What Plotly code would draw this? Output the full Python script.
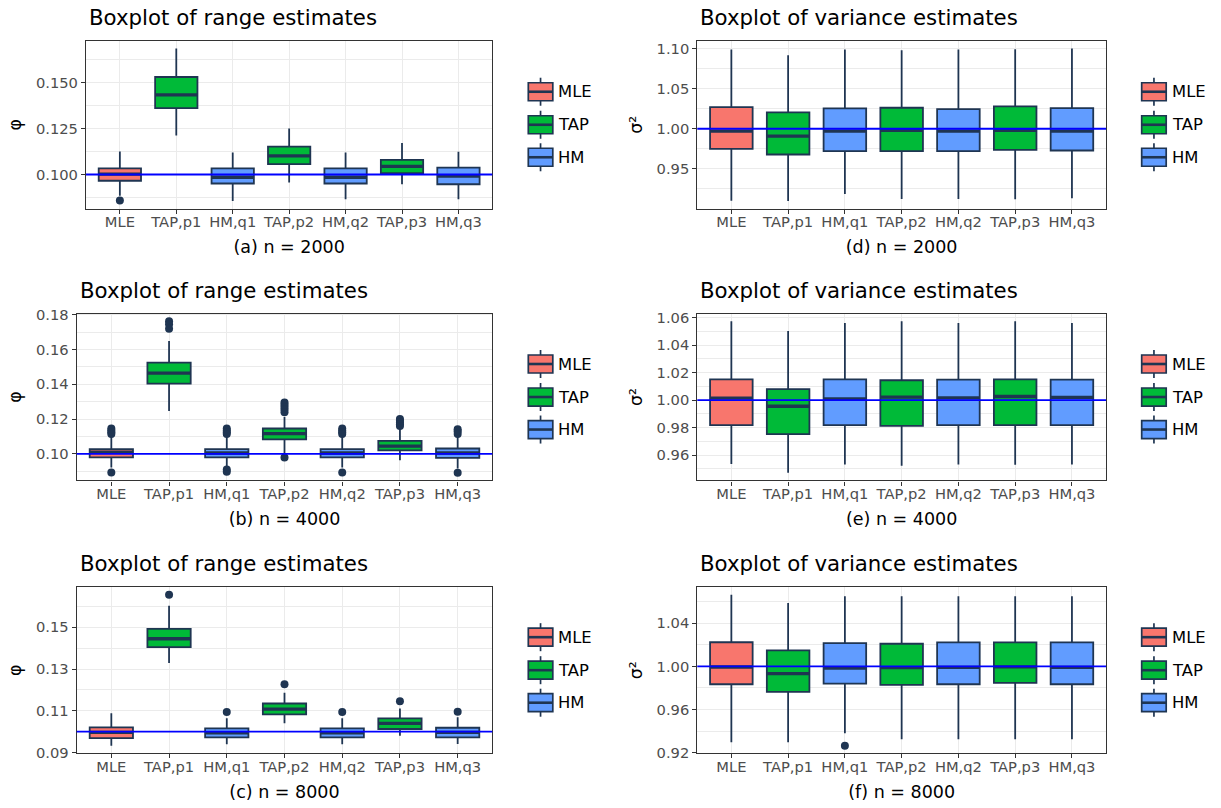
import plotly.graph_objects as go

W, H = 1221, 808

categories = ["MLE", "TAP,p1", "HM,q1", "TAP,p2", "HM,q2", "TAP,p3", "HM,q3"]
groups = ["MLE", "TAP", "HM", "TAP", "HM", "TAP", "HM"]
legend_groups = ["MLE", "TAP", "HM"]

# ---------- (a) range, n = 2000 ----------
a_lower = [0.0885, 0.1212, 0.0856, 0.0956, 0.0865, 0.0947, 0.0865]
a_q1 = [0.0966, 0.1361, 0.0951, 0.1057, 0.0951, 0.1008, 0.0947]
a_med = [0.1002, 0.1434, 0.0985, 0.1102, 0.0985, 0.1044, 0.0991]
a_q3 = [0.1033, 0.1531, 0.1033, 0.1152, 0.1033, 0.1080, 0.1038]
a_upper = [0.1126, 0.1686, 0.1120, 0.1250, 0.1120, 0.1172, 0.1124]
a_out = [[0.0858], [], [], [], [], [], []]

# ---------- (b) range, n = 4000 ----------
b_lower = [0.0922, 0.1247, 0.0922, 0.1002, 0.0922, 0.0964, 0.0916]
b_q1 = [0.0980, 0.1404, 0.0980, 0.1083, 0.0980, 0.1020, 0.0977]
b_med = [0.1010, 0.1465, 0.1005, 0.1117, 0.1005, 0.1045, 0.1005]
b_q3 = [0.1027, 0.1525, 0.1027, 0.1146, 0.1027, 0.1075, 0.1031]
b_upper = [0.1103, 0.1649, 0.1103, 0.1212, 0.1103, 0.1146, 0.1098]
b_out = [
    [0.1146, 0.1135, 0.1125, 0.1115, 0.0893],
    [0.1763, 0.1745, 0.1720],
    [0.1146, 0.1135, 0.1125, 0.1115, 0.0910, 0.0897],
    [0.1295, 0.1283, 0.1270, 0.1255, 0.1240, 0.0979],
    [0.1146, 0.1135, 0.1125, 0.1115, 0.0893],
    [0.1200, 0.1190, 0.1180, 0.1170, 0.1160],
    [0.1142, 0.1130, 0.1115, 0.0891],
]

# ---------- (c) range, n = 8000 ----------
c_lower = [0.0933, 0.1329, 0.0940, 0.1040, 0.0940, 0.0980, 0.0941]
c_q1 = [0.0969, 0.1405, 0.0973, 0.1083, 0.0973, 0.1013, 0.0973]
c_med = [0.0997, 0.1445, 0.0995, 0.1108, 0.0995, 0.1040, 0.0997]
c_q3 = [0.1021, 0.1492, 0.1016, 0.1135, 0.1016, 0.1064, 0.1019]
c_upper = [0.1088, 0.1603, 0.1064, 0.1186, 0.1064, 0.1111, 0.1069]
c_out = [[], [0.1656], [0.1094], [0.1227], [0.1094], [0.1146], [0.1095]]

# ---------- (d) variance, n = 2000 ----------
d_lower = [0.9104, 0.9100, 0.9187, 0.9125, 0.9125, 0.9120, 0.9133]
d_q1 = [0.9750, 0.9679, 0.9720, 0.9720, 0.9720, 0.9737, 0.9729]
d_med = [0.9970, 0.9908, 0.9970, 0.9980, 0.9970, 0.9980, 0.9970]
d_q3 = [1.0270, 1.0204, 1.0254, 1.0262, 1.0245, 1.0280, 1.0258]
d_upper = [1.0988, 1.0916, 1.0988, 1.0980, 1.0988, 1.0990, 1.1000]
d_out = [[], [], [], [], [], [], []]

# ---------- (e) variance, n = 4000 ----------
e_lower = [0.9535, 0.9471, 0.9532, 0.9522, 0.9532, 0.9530, 0.9532]
e_q1 = [0.9818, 0.9753, 0.9818, 0.9813, 0.9818, 0.9818, 0.9818]
e_med = [1.0015, 0.9956, 1.0010, 1.0022, 1.0017, 1.0027, 1.0020]
e_q3 = [1.0151, 1.0080, 1.0151, 1.0145, 1.0150, 1.0152, 1.0150]
e_upper = [1.0575, 1.0504, 1.0562, 1.0575, 1.0562, 1.0575, 1.0562]
e_out = [[], [], [], [], [], [], []]

# ---------- (f) variance, n = 8000 ----------
f_lower = [0.9296, 0.9296, 0.9379, 0.9323, 0.9323, 0.9323, 0.9323]
f_q1 = [0.9834, 0.9763, 0.9840, 0.9828, 0.9834, 0.9846, 0.9834]
f_med = [0.9994, 0.9932, 0.9985, 0.9988, 0.9990, 0.9995, 0.9990]
f_q3 = [1.0224, 1.0148, 1.0215, 1.0210, 1.0222, 1.0222, 1.0222]
f_upper = [1.0665, 1.0588, 1.0650, 1.0650, 1.0650, 1.0650, 1.0650]
f_out = [[], [], [0.9264], [], [], [], []]

range_true = 0.1
variance_true = 1.0

# ---------- styling ----------
FONT = "DejaVu Sans"
NAVY = "#1F3552"
FILL = {"MLE": "#F8766D", "TAP": "#00BA38", "HM": "#619CFF"}
GRID = "#EBEBEB"
BOXW = 0.75
# vertical mapping of the photographed page (measured): y_img = OFF_Y + SCALE_Y * y_page
OFF_Y, SCALE_Y = 7.8, 0.981

panels = [
    dict(stats=(a_lower, a_q1, a_med, a_q3, a_upper), out=a_out, ref=range_true,
         px=(86, 40.7, 492.3, 208.3), tick0=0.1, dtick=0.025, fmt=".3f",
         title="Boxplot of range estimates", xtitle="(a) n = 2000", ytitle="φ",
         title_y=17.5, legend_x=528.3),
    dict(stats=(b_lower, b_q1, b_med, b_q3, b_upper), out=b_out, ref=range_true,
         px=(76.7, 313.3, 492.3, 480), tick0=0.1, dtick=0.02, fmt=".2f",
         title="Boxplot of range estimates", xtitle="(b) n = 4000", ytitle="φ",
         title_y=290.3, legend_x=528.3),
    dict(stats=(c_lower, c_q1, c_med, c_q3, c_upper), out=c_out, ref=range_true,
         px=(76.7, 586.7, 492.3, 752.7), tick0=0.09, dtick=0.02, fmt=".2f",
         title="Boxplot of range estimates", xtitle="(c) n = 8000", ytitle="φ",
         title_y=563.3, legend_x=528.3),
    dict(stats=(d_lower, d_q1, d_med, d_q3, d_upper), out=d_out, ref=variance_true,
         px=(697.3, 40.7, 1106, 208.3), tick0=1.0, dtick=0.05, fmt=".2f",
         title="Boxplot of variance estimates", xtitle="(d) n = 2000", ytitle="σ²",
         title_y=17, legend_x=1141.7),
    dict(stats=(e_lower, e_q1, e_med, e_q3, e_upper), out=e_out, ref=variance_true,
         px=(697.3, 313.3, 1106, 480), tick0=1.0, dtick=0.02, fmt=".2f",
         title="Boxplot of variance estimates", xtitle="(e) n = 4000", ytitle="σ²",
         title_y=290.3, legend_x=1141.7),
    dict(stats=(f_lower, f_q1, f_med, f_q3, f_upper), out=f_out, ref=variance_true,
         px=(697.3, 586.7, 1106, 752.7), tick0=1.0, dtick=0.04, fmt=".2f",
         title="Boxplot of variance estimates", xtitle="(f) n = 8000", ytitle="σ²",
         title_y=563.3, legend_x=1141.7),
]


def px_x(v):
    return v / W


def px_y(v):
    page_y = (v - OFF_Y) / SCALE_Y
    return 1 - page_y / H


fig = go.Figure()
shapes = []
annotations = []
layout_axes = {}
positions = list(range(len(categories)))

for k, p in enumerate(panels):
    n = k + 1
    xa = "x" if n == 1 else f"x{n}"
    ya = "y" if n == 1 else f"y{n}"
    lower, q1, med, q3, upper = p["stats"]

    for i, cat in enumerate(categories):
        g = groups[i]
        fig.add_trace(go.Box(
            x=[positions[i]], q1=[q1[i]], median=[med[i]], q3=[q3[i]],
            lowerfence=[lower[i]], upperfence=[upper[i]],
            width=BOXW, whiskerwidth=0, boxpoints=False,
            fillcolor=FILL[g], line=dict(color=NAVY, width=1.8),
            name=cat, showlegend=False, hoverinfo="skip",
            xaxis=xa, yaxis=ya,
        ))
    mx, my = [], []
    for i in positions:
        mx += [i - BOXW / 2, i + BOXW / 2, None]
        my += [med[i], med[i], None]
    fig.add_trace(go.Scatter(x=mx, y=my, mode="lines", line=dict(color=NAVY, width=3.3),
                             showlegend=False, hoverinfo="skip", xaxis=xa, yaxis=ya))
    ox, oy = [], []
    for i in positions:
        for v in p["out"][i]:
            ox.append(i)
            oy.append(v)
    if ox:
        fig.add_trace(go.Scatter(x=ox, y=oy, mode="markers",
                                 marker=dict(color=NAVY, size=8, line=dict(width=0)),
                                 showlegend=False, hoverinfo="skip", xaxis=xa, yaxis=ya))

    allv = lower + upper + [v for o in p["out"] for v in o] + [p["ref"]]
    lo, hi = min(allv), max(allv)
    span = hi - lo
    yr = [lo - 0.05 * span, hi + 0.05 * span]

    x0, y0, x1, y1 = p["px"]
    axname_x = "xaxis" if n == 1 else f"xaxis{n}"
    axname_y = "yaxis" if n == 1 else f"yaxis{n}"
    layout_axes[axname_x] = dict(
        domain=[px_x(x0), px_x(x1)], anchor=ya, range=[-0.6, len(categories) - 0.4],
        tickmode="array", tickvals=positions, ticktext=categories,
        showgrid=True, gridcolor=GRID, gridwidth=1.2, zeroline=False,
        showline=True, mirror=True, linecolor="#333333", linewidth=1.2,
        ticks="outside", ticklen=4, tickcolor="#333333", tickwidth=1,
        ticklabelstandoff=-4,
        tickfont=dict(family=FONT, size=14.7, color="#4D4D4D"), fixedrange=True,
        title=dict(text=p["xtitle"], font=dict(family=FONT, size=17.5, color="black"), standoff=11),
    )
    layout_axes[axname_y] = dict(
        domain=[px_y(y1), px_y(y0)], anchor=xa, range=yr,
        tick0=p["tick0"], dtick=p["dtick"], tickformat=p["fmt"],
        showgrid=True, gridcolor=GRID, gridwidth=1.2, zeroline=False,
        minor=dict(tick0=p["tick0"], dtick=p["dtick"] / 2, showgrid=True,
                   gridcolor=GRID, gridwidth=0.6),
        showline=True, mirror=True, linecolor="#333333", linewidth=1.2,
        ticks="outside", ticklen=4, tickcolor="#333333", tickwidth=1,
        tickfont=dict(family=FONT, size=14.7, color="#4D4D4D"), fixedrange=True,
        title=dict(text=p["ytitle"], font=dict(family=FONT, size=17.5, color="black"), standoff=9),
    )

    shapes.append(dict(type="line", xref=f"{xa} domain", x0=0, x1=1, yref=ya,
                       y0=p["ref"], y1=p["ref"], line=dict(color="#0000FF", width=1.8),
                       layer="above"))

    annotations.append(dict(text=p["title"], x=px_x(x0 + 1), y=px_y(p["title_y"]),
                            xref="paper", yref="paper", xanchor="left", yanchor="middle",
                            showarrow=False, font=dict(family=FONT, size=21.3, color="black")))

    cy_mid = (y0 + y1) / 2
    offsets = [-33, 0, 32.5]
    kx0 = p["legend_x"]
    kx1 = kx0 + 24.5
    kxc = (kx0 + kx1) / 2
    for g, off in zip(legend_groups, offsets):
        cy = cy_mid + off
        shapes.append(dict(type="line", xref="paper", yref="paper",
                           x0=px_x(kxc), x1=px_x(kxc), y0=px_y(cy - 14), y1=px_y(cy + 14),
                           line=dict(color=NAVY, width=1.7)))
        shapes.append(dict(type="rect", xref="paper", yref="paper",
                           x0=px_x(kx0), x1=px_x(kx1), y0=px_y(cy - 9), y1=px_y(cy + 9),
                           fillcolor=FILL[g], line=dict(color=NAVY, width=1.7)))
        shapes.append(dict(type="line", xref="paper", yref="paper",
                           x0=px_x(kx0), x1=px_x(kx1), y0=px_y(cy), y1=px_y(cy),
                           line=dict(color=NAVY, width=2.6)))
        annotations.append(dict(text=g, x=px_x(kx1 + 3.5), y=px_y(cy), xref="paper", yref="paper",
                                xanchor="left", yanchor="middle", showarrow=False,
                                font=dict(family=FONT, size=16.4, color="black")))

fig.update_layout(
    width=W, height=H, margin=dict(l=0, r=0, t=0, b=0),
    paper_bgcolor="white", plot_bgcolor="white",
    font=dict(family=FONT), showlegend=False,
    shapes=shapes, annotations=annotations, boxmode="overlay",
    **layout_axes,
)

fig.write_html("out.html")
